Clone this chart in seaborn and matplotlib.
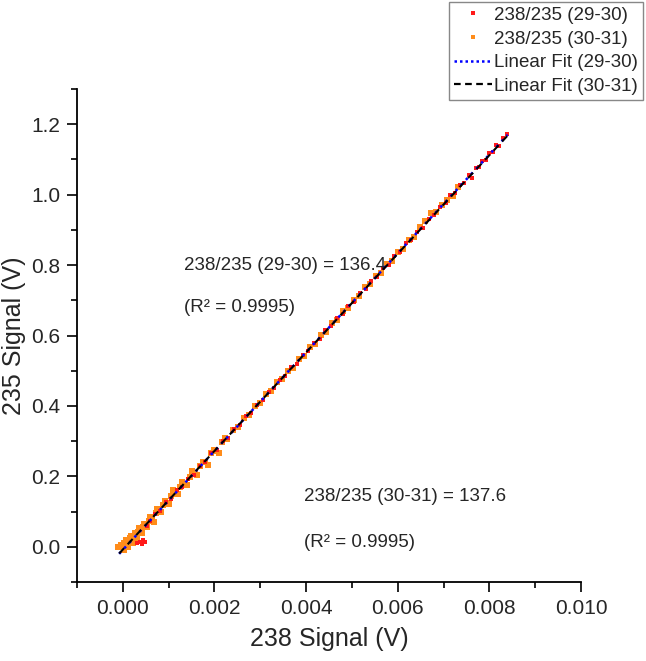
import matplotlib
matplotlib.use("Agg")
import matplotlib.pyplot as plt
from matplotlib.ticker import MultipleLocator, FormatStrFormatter
from matplotlib.lines import Line2D
import seaborn as sns
import pandas as pd

# ---- data ----
red_x = [0.00030, 0.00038, 0.00042, 0.00045, 0.00048, 0.00052, 0.00060, 0.00070, 0.00082,
         0.00095, 0.00105, 0.00118, 0.00130, 0.00142, 0.00155, 0.00168, 0.00180, 0.00193,
         0.00205, 0.00218, 0.00230, 0.00242, 0.00255, 0.00268, 0.00280, 0.00292, 0.00305,
         0.00318, 0.00330, 0.00342, 0.00355, 0.00368, 0.00380, 0.00393, 0.00405, 0.00418,
         0.00430, 0.00442, 0.00455, 0.00468, 0.00480, 0.00492, 0.00505, 0.00518, 0.00530,
         0.00542, 0.00555, 0.00568, 0.00580, 0.00592, 0.00605, 0.00618, 0.00630, 0.00642,
         0.00655, 0.00668, 0.00680, 0.00692, 0.00705, 0.00715, 0.00725, 0.00735, 0.00745,
         0.00755, 0.00762, 0.00770, 0.00778, 0.00785, 0.00792, 0.00800, 0.00808, 0.00815,
         0.00822, 0.00830, 0.00838]
red_y = [0.012, 0.015, 0.008, 0.020, 0.014, 0.058, 0.072, 0.094, 0.103,
         0.128, 0.136, 0.160, 0.170, 0.193, 0.205, 0.229, 0.240, 0.266,
         0.276, 0.300, 0.310, 0.334, 0.345, 0.370, 0.381, 0.404, 0.416,
         0.440, 0.451, 0.474, 0.485, 0.510, 0.520, 0.545, 0.556, 0.580,
         0.590, 0.615, 0.626, 0.650, 0.661, 0.684, 0.695, 0.721, 0.731,
         0.755, 0.766, 0.791, 0.800, 0.825, 0.836, 0.862, 0.870, 0.895,
         0.905, 0.930, 0.941, 0.965, 0.975, 0.998, 1.005, 1.026, 1.032,
         1.055, 1.046, 1.075, 1.078, 1.096, 1.098, 1.118, 1.120, 1.140,
         1.138, 1.160, 1.172]

orange_x = [-0.00010, -0.00005, 0.00000, 0.00003, 0.00006, 0.00010, 0.00013, 0.00016,
            0.00020, 0.00024, 0.00028, 0.00033, 0.00038, 0.00044, 0.00050, 0.00057,
            0.00064, 0.00072, 0.00080, 0.00088, 0.00097, 0.00106, 0.00115, 0.00125,
            0.00135, 0.00146, 0.00157, 0.00168, 0.00180, 0.00192, 0.00204, 0.00216,
            0.00228, 0.00240, 0.00252, 0.00264, 0.00276, 0.00288, 0.00300, 0.00312,
            0.00324, 0.00336, 0.00348, 0.00360, 0.00372, 0.00384, 0.00396, 0.00408,
            0.00420, 0.00432, 0.00444, 0.00456, 0.00468, 0.00480, 0.00492, 0.00504,
            0.00516, 0.00528, 0.00540, 0.00552, 0.00564, 0.00576, 0.00588, 0.00600,
            0.00612, 0.00624, 0.00636, 0.00648, 0.00660, 0.00672, 0.00684, 0.00696,
            0.00708, 0.00720, 0.00732,
            0.00002, 0.00008, 0.00012, 0.00018, 0.00022, 0.00027, 0.00031, 0.00036,
            0.00041, 0.00047, 0.00053, 0.00060, 0.00067, 0.00075, 0.00084, 0.00092,
            0.00101, 0.00110, 0.00120, 0.00130, 0.00140, 0.00152, 0.00162, 0.00174,
            0.00186, 0.00198, 0.00210, 0.00222]
orange_y = [-0.002, 0.004, 0.002, 0.010, 0.006, 0.016, 0.012, 0.024,
            0.022, 0.032, 0.030, 0.042, 0.041, 0.056, 0.058, 0.074,
            0.078, 0.095, 0.100, 0.118, 0.124, 0.143, 0.150, 0.170,
            0.177, 0.199, 0.208, 0.230, 0.240, 0.265, 0.272, 0.298,
            0.307, 0.332, 0.341, 0.366, 0.374, 0.399, 0.408, 0.433,
            0.441, 0.467, 0.476, 0.500, 0.509, 0.534, 0.542, 0.568,
            0.576, 0.601, 0.610, 0.636, 0.643, 0.669, 0.677, 0.702,
            0.711, 0.737, 0.745, 0.770, 0.778, 0.804, 0.812, 0.838,
            0.845, 0.872, 0.880, 0.907, 0.925, 0.947, 0.950, 0.972,
            0.985, 0.995, 1.021,
            -0.010, 0.018, 0.000, 0.030, 0.012, 0.040, 0.026, 0.052,
            0.038, 0.066, 0.055, 0.084, 0.070, 0.106, 0.098, 0.130,
            0.122, 0.160, 0.150, 0.185, 0.175, 0.215, 0.205, 0.242,
            0.232, 0.275, 0.265, 0.308]

fit1_x = [-0.00008, 0.00840]
fit1_y = [-0.020, 1.170]
fit2_x = [-0.00008, 0.00840]
fit2_y = [-0.019, 1.168]

labels = ["238/235 (29-30)", "238/235 (30-31)", "Linear Fit (29-30)", "Linear Fit (30-31)"]
ann1 = ["238/235 (29-30) = 136.4", "(R\u00b2 = 0.9995)"]
ann2 = ["238/235 (30-31) = 137.6", "(R\u00b2 = 0.9995)"]
x_label = "238 Signal (V)"
y_label = "235 Signal (V)"

# ---- plotting ----
sns.set_style("ticks")
plt.rcParams["font.family"] = ["Liberation Sans", "DejaVu Sans"]

fig = plt.figure(figsize=(6.46, 6.61), dpi=100)
ax = fig.add_axes([77/646, 1-582/661, (581-77)/646, (582-89)/661])

red_df = pd.DataFrame({"x": red_x, "y": red_y})
orange_df = pd.DataFrame({"x": orange_x, "y": orange_y})
f1 = pd.DataFrame({"x": fit1_x, "y": fit1_y})
f2 = pd.DataFrame({"x": fit2_x, "y": fit2_y})

RED = "#ff1a1a"
ORANGE = "#ff8c1a"
sns.scatterplot(data=orange_df, x="x", y="y", ax=ax, color=ORANGE, marker="s", s=14,
                linewidth=0, zorder=3)
sns.scatterplot(data=red_df, x="x", y="y", ax=ax, color=RED, marker="s", s=10,
                linewidth=0, zorder=3)
sns.lineplot(data=f1, x="x", y="y", ax=ax, color="#0000ff", linestyle=(0, (1, 2)),
             linewidth=1.8, zorder=4)
sns.lineplot(data=f2, x="x", y="y", ax=ax, color="black", linestyle=(0, (3.5, 2.5)),
             linewidth=1.5, zorder=5)

ax.set_xlim(-0.001, 0.010)
ax.set_ylim(-0.1, 1.3)
ax.xaxis.set_minor_locator(MultipleLocator(0.001))
ax.yaxis.set_minor_locator(MultipleLocator(0.1))
ax.set_xticks([0.000, 0.002, 0.004, 0.006, 0.008, 0.010])
ax.set_yticks([0.0, 0.2, 0.4, 0.6, 0.8, 1.0, 1.2])
ax.xaxis.set_major_formatter(FormatStrFormatter("%.3f"))
ax.yaxis.set_major_formatter(FormatStrFormatter("%.1f"))
ax.tick_params(axis="both", which="major", length=7, width=1.2, labelsize=15, pad=5,
               direction="out", color="black")
ax.tick_params(axis="both", which="minor", length=4, width=1.2, direction="out", color="black")
for side in ["top", "right"]:
    ax.spines[side].set_visible(False)
for side in ["left", "bottom"]:
    ax.spines[side].set_linewidth(1.3)
    ax.spines[side].set_color("black")

ax.set_xlabel(x_label, fontsize=18, labelpad=7)
ax.set_ylabel(y_label, fontsize=18, labelpad=4)

ax.text(0.00134, 0.80, ann1[0], fontsize=13.5, va="center", ha="left")
ax.text(0.00134, 0.679, ann1[1], fontsize=13.5, va="center", ha="left")
ax.text(0.00396, 0.143, ann2[0], fontsize=13.5, va="center", ha="left")
ax.text(0.00396, 0.012, ann2[1], fontsize=13.5, va="center", ha="left")

handles = [
    Line2D([], [], linestyle="none", marker="s", markersize=2.5, color=RED, markeredgewidth=0),
    Line2D([], [], linestyle="none", marker="s", markersize=2.5, color=ORANGE, markeredgewidth=0),
    Line2D([], [], color="#0000ff", linestyle=(0, (1, 1.2)), linewidth=1.8),
    Line2D([], [], color="black", linestyle=(0, (3, 2)), linewidth=1.6),
]
leg = fig.legend(handles, labels, loc="upper right", bbox_to_anchor=(643/646, 1-2/661),
                 fontsize=13.5, frameon=True, fancybox=False, framealpha=1,
                 edgecolor="#888888", handlelength=2.0, handletextpad=0.15,
                 labelspacing=0.35, borderpad=0.25, borderaxespad=0)
leg.get_frame().set_linewidth(1.0)

fig.savefig("out.png", dpi=100)
